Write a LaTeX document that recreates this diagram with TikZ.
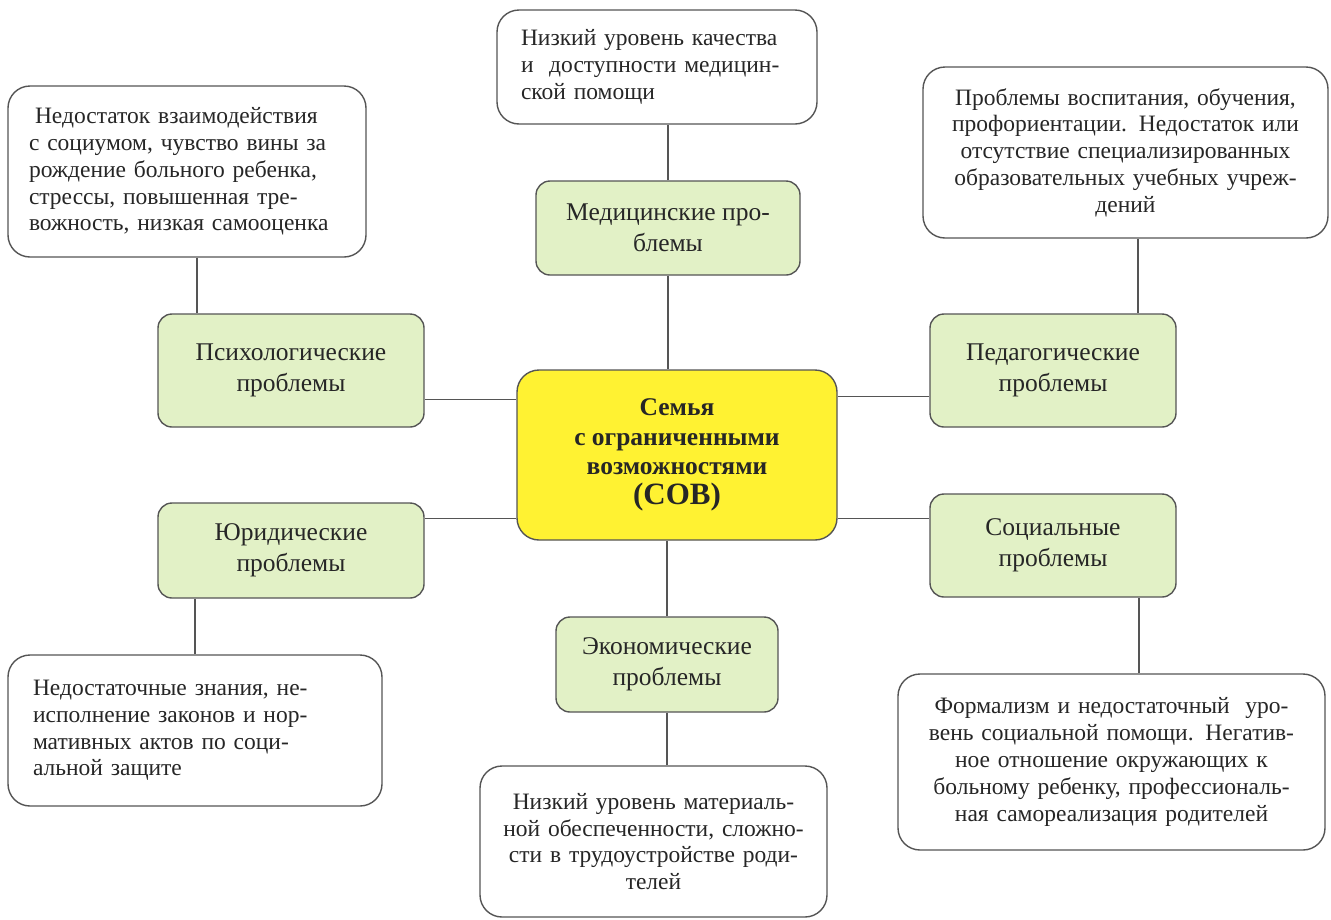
\documentclass[tikz,border=0pt]{standalone}
\usepackage{fontspec}
\setmainfont{Liberation Serif}
\usetikzlibrary{positioning, calc}

\definecolor{probgreen}{RGB}{226,241,198}
\definecolor{coreyellow}{RGB}{255,242,50}
\definecolor{edgegray}{RGB}{85,85,85}

\begin{document}
\begin{tikzpicture}[x=1pt, y=-1pt,
   box/.style={draw=edgegray, line width=1.4pt, inner sep=0pt, text=black!85,
      font=\fontsize{23.5}{26.8}\selectfont},
   problem/.style={box, fill=probgreen, rounded corners=14pt, align=center,
      font=\fontsize{25.5}{31}\selectfont},
   detail/.style={box, fill=white, rounded corners=22pt},
   core/.style={box, fill=coreyellow, rounded corners=22pt, align=center,
      font=\bfseries\fontsize{25.5}{29.5}\selectfont},
   link/.style={draw=edgegray, line width=1.4pt}]
   \useasboundingbox (0,0) rectangle (1331,919);

   % centre
   \node[core, minimum width=320pt, minimum height=170pt] (cen) at (677,455)
      {Семья\\с ограниченными\\возможностями\\{\fontsize{31}{32}\selectfont(СОВ)}};

   % problem groups
   \node[problem, minimum width=264pt, minimum height=94pt] (med) at (668,228) {Медицинские про-\\блемы};
   \node[problem, minimum width=266pt, minimum height=113pt] (psy) at (291,370.5) {Психологические\\проблемы};
   \node[problem, minimum width=246pt, minimum height=113pt] (ped) at (1053,370.5) {Педагогические\\проблемы};
   \node[problem, minimum width=266pt, minimum height=95pt] (jur) at (291,550.5) {Юридические\\проблемы};
   \node[problem, minimum width=246pt, minimum height=103pt] (soc) at (1053,545.5) {Социальные\\проблемы};
   \node[problem, minimum width=222pt, minimum height=95pt] (eco) at (667,664.5) {Экономические\\проблемы};

   % details
   \node[detail, align=left, text width=272pt, minimum width=320pt, minimum height=114pt] (medtop) at (657,67)
      {Низкий уровень качества\\и~ доступности медицин-\\ской помощи};
   \node[detail, align=left, text width=316pt, minimum width=358pt, minimum height=171pt] (psytop) at (187,171.5)
      {\hspace{6pt}Недостаток взаимодействия\\с социумом, чувство вины за\\рождение больного ребенка,\\стрессы, повышенная тре-\\вожность, низкая самооценка};
   \node[detail, align=center, text width=385pt, minimum width=405pt, minimum height=171pt] (pedtop) at (1125.5,152.5)
      {Проблемы воспитания, обучения,\\профориентации. Недостаток или\\отсутствие специализированных\\образовательных учебных учреж-\\дений};
   \node[detail, align=left, text width=324pt, minimum width=374pt, minimum height=151pt] (jurbot) at (195,730.5)
      {Недостаточные знания, не-\\исполнение законов и нор-\\мативных актов по соци-\\альной защите};
   \node[detail, align=center, text width=405pt, minimum width=427pt, minimum height=176pt] (socbot) at (1111.5,762)
      {Формализм и недостаточный~ уро-\\вень социальной помощи. Негатив-\\ное отношение окружающих к\\больному ребенку, профессиональ-\\ная самореализация родителей};
   \node[detail, align=center, text width=325pt, minimum width=347pt, minimum height=151pt] (ecobot) at (653.5,841.5)
      {Низкий уровень материаль-\\ной обеспеченности, сложно-\\сти в трудоустройстве роди-\\телей};

   % connectors
   \path[link]
    (med.north) -- (med.north |- medtop.south)
    (med.south) -- (med.south |- cen.north)
    ([xshift=10pt]psytop.south) -- ([xshift=10pt]psytop.south |- psy.north)
    ([yshift=-30pt]cen.north west) -- ([yshift=-30pt]cen.north west -| psy.east)
    ([xshift=12.5pt]pedtop.south) -- ([xshift=12.5pt]pedtop.south |- ped.north)
    ([yshift=-27pt]cen.north east) -- ([yshift=-27pt]cen.north east -| ped.west)
    (jurbot.north) -- (jurbot.north |- jur.south)
    ([yshift=22pt]cen.south west) -- ([yshift=22pt]cen.south west -| jur.east)
    ([xshift=27.5pt]socbot.north) -- ([xshift=27.5pt]socbot.north |- soc.south)
    ([yshift=22pt]cen.south east) -- ([yshift=22pt]cen.south east -| soc.west)
    (eco.north) -- (eco.north |- cen.south)
    (eco.south) -- (eco.south |- ecobot.north);
\end{tikzpicture}
\end{document}
